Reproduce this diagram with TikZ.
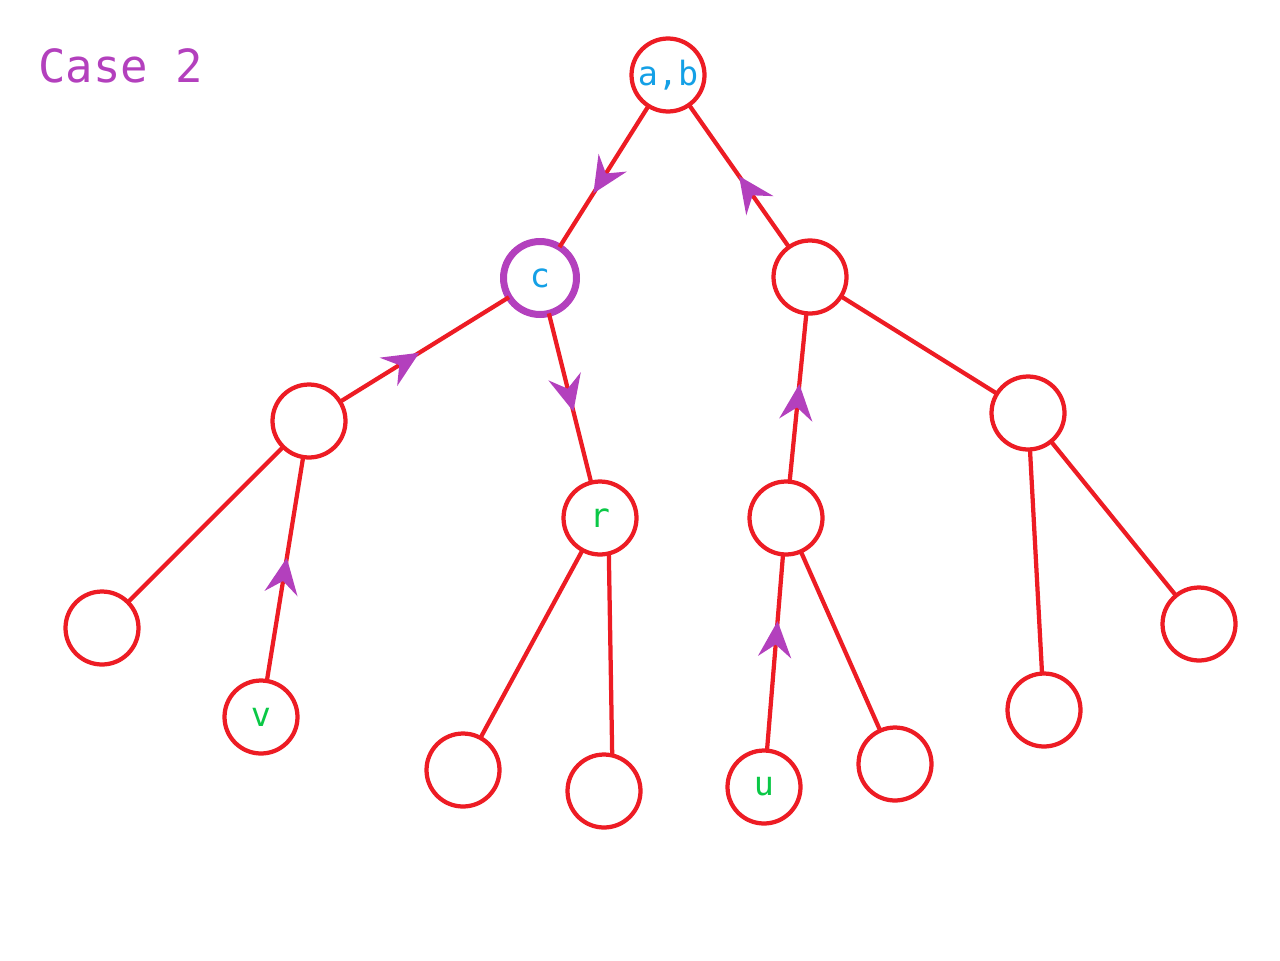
\documentclass[tikz,border=0pt]{standalone}
\usepackage{fontspec}
\setmonofont{DejaVu Sans Mono}
\usetikzlibrary{arrows.meta,decorations.markings}
\definecolor{treered}{RGB}{237,28,36}
\definecolor{flowpurple}{RGB}{179,64,189}
\definecolor{keyblue}{RGB}{20,160,230}
\definecolor{markgreen}{RGB}{10,200,70}
\newcommand*\vertexdiam{1.46cm}
\newcommand*\linkwidth{0.085cm}
\tikzset{
    vertex/.style      = {draw=treered,circle,fill=white,
                          line width=\linkwidth, minimum size=\vertexdiam,
                          inner sep=0pt, outer sep=0pt,
                          font=\ttfamily\fontsize{19}{19}\selectfont},
    keyvertex/.style   = {vertex,text=keyblue},
    markvertex/.style  = {vertex,text=markgreen},
    pivotvertex/.style = {keyvertex,draw=flowpurple,line width=0.14cm},
    link/.style        = {draw=treered,line width=\linkwidth},
    flow/.style        = {link,postaction={decorate},
                          decoration={markings,
                            mark=at position #1 with {\arrow[flowpurple]{Stealth[length=0.72cm,width=0.66cm,inset=0.25cm]}}}},
    flow/.default      = 0.55,
  }
\begin{document}
\begin{tikzpicture}[x=0.02cm,y=-0.02cm]
    \useasboundingbox (0,0) rectangle (1280,960);

    % Title
    \node[anchor=base west,text=flowpurple,inner sep=0pt,
          font=\ttfamily\fontsize{26}{26}\selectfont] (title) at (38,82) {Case 2};

    % Level 0 and 1
    \node[keyvertex]   (root) at (668,75)  {a,b};
    \node[pivotvertex] (c)    at (540,278) {c};
    \node[vertex]      (s)    at (810,277) {};

    % Level 2
    \node[vertex]      (l)    at (309,421) {};
    \node[markvertex]  (r)    at (600,518) {r};
    \node[vertex]      (sl)   at (786,518) {};
    \node[vertex]      (sr)   at (1028,413) {};

    % Leaves
    \node[vertex]      (ll)   at (102,628) {};
    \node[markvertex]  (v)    at (261,717) {v};
    \node[vertex]      (rl)   at (463,770) {};
    \node[vertex]      (rr)   at (604,791) {};
    \node[markvertex]  (u)    at (764,787) {u};
    \node[vertex]      (slr)  at (895,764) {};
    \node[vertex]      (srl)  at (1044,710) {};
    \node[vertex]      (srr)  at (1199,624) {};

    % Edges, with the walk marked by arrows
    \draw[flow=0.62] (root) -- (c);
    \draw[flow=0.5]  (s) -- (root);
    \draw[flow=0.47] (l) -- (c);
    \draw[flow=0.58] (c) -- (r);
    \draw[link]      (s) -- (sr);
    \draw[flow=0.58] (sl) -- (s);
    \draw[link]      (l) -- (ll);
    \draw[flow=0.55] (v) -- (l);
    \draw[link]      (r) -- (rl);
    \draw[link]      (r.-76) -- (rr.77);
    \draw[flow=0.66] (u) -- (sl);
    \draw[link]      (sl) -- (slr);
    \draw[link]      (sr) -- (srl);
    \draw[link]      (sr) -- (srr);
\end{tikzpicture}
\end{document}
